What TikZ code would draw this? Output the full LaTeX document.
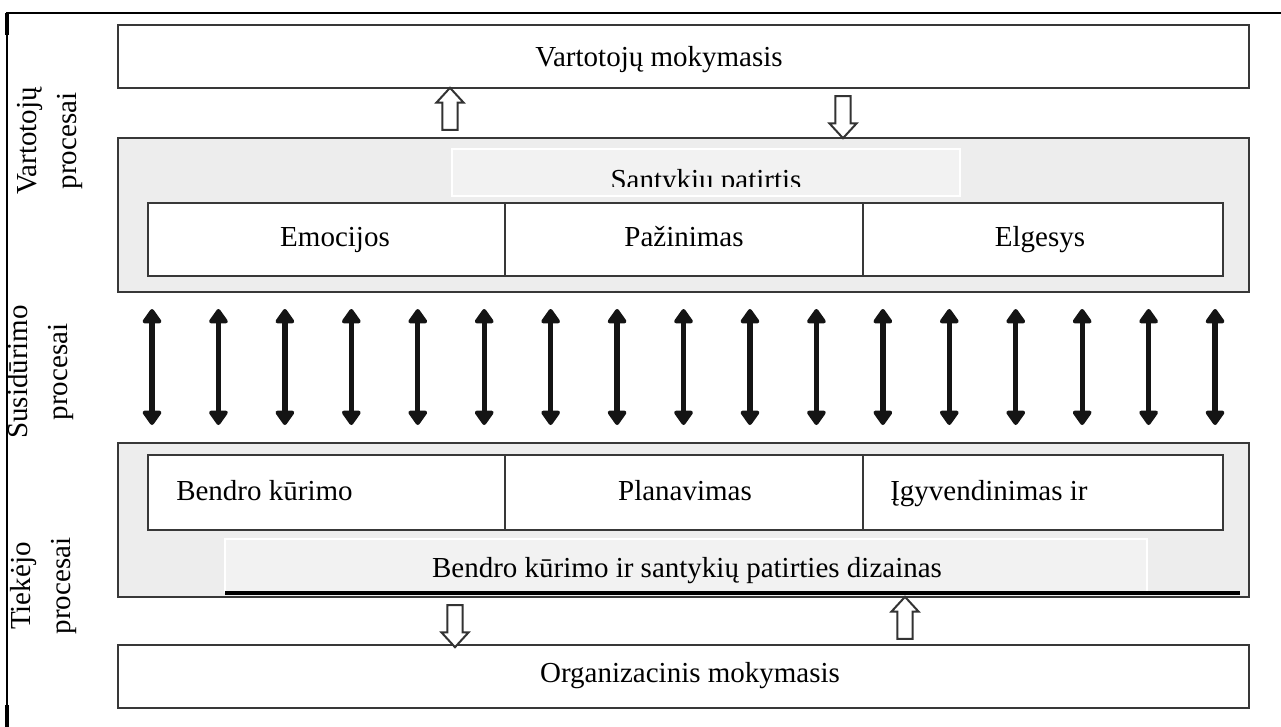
\documentclass[tikz,border=0pt]{standalone}
\usepackage{fontspec}
\setmainfont{Liberation Serif}
\usetikzlibrary{arrows.meta,shapes.arrows}
\begin{document}
\begin{tikzpicture}[x=0.75pt,y=-0.75pt,
  edge/.style={draw=black!78, line width=2.2pt},
  graybox/.style={edge, fill=black!7},
  cellbox/.style={edge, fill=white},
  innerbox/.style={draw=white, line width=1.5pt, fill=black!5},
  txt/.style={font=\fontsize{21.75}{26}\selectfont, inner sep=0pt},
  side/.style={font=\fontsize{21.75}{30}\selectfont, inner sep=0pt, rotate=90, align=center},
  dbl/.style={line width=4pt, black!92, {Triangle[width=16pt,length=12pt,round]}-{Triangle[width=16pt,length=12pt,round]}},
  hollow/.style={single arrow, draw=black!80, fill=white, line width=1.5pt, inner xsep=0pt, inner ysep=5pt,
     minimum height=31.5pt, minimum width=0pt, single arrow head extend=4.5pt, single arrow tip angle=85}
]
\useasboundingbox (0,0) rectangle (1281,727);
% outer frame
\draw[line width=1.3pt] (7,727) -- (7,13) -- (1281,13);
\draw[line width=2.6pt] (7,13) -- (7,35);
\draw[line width=2.6pt] (7,705) -- (7,727);

% top box
\draw[cellbox] (118,25) rectangle (1249,88);
\node[txt, anchor=base] (vm) at (659,67) {Vartotojų mokymasis};

% upper gray box
\draw[graybox] (118,138) rectangle (1249,292);
\draw[innerbox] (452,149) rectangle (960,196);
\begin{scope}
\clip (452,149) rectangle (960,187);
\node[txt, anchor=base] (sp) at (706,190) {Santykiu patirtis};
\end{scope}
\draw[cellbox] (148,203) rectangle (1223,276);
\draw[edge] (505,203) -- (505,276);
\draw[edge] (863,203) -- (863,276);
\node[txt, anchor=base] (em) at (335,247) {Emocijos};
\node[txt, anchor=base] (pz) at (684,247) {Pažinimas};
\node[txt, anchor=base] (el) at (1040,247) {Elgesys};

% lower gray box
\draw[graybox] (118,443) rectangle (1249,597);
\draw[cellbox] (148,455) rectangle (1223,530);
\draw[edge] (505,455) -- (505,530);
\draw[edge] (863,455) -- (863,530);
\node[txt, anchor=base west] (bk) at (176,500) {Bendro kūrimo};
\node[txt, anchor=base] (pl) at (685,500) {Planavimas};
\node[txt, anchor=base west] (ig) at (890,500) {Įgyvendinimas ir};
\draw[innerbox] (225,593) -- (225,539) -- (1147,539) -- (1147,593);
\fill[black!5] (226,540) rectangle (1146,592);
\draw[line width=2.4pt] (225,593) -- (1240,593);
\node[txt, anchor=base] (bd) at (687,577) {Bendro kūrimo ir santykių patirties dizainas};

% bottom box
\draw[cellbox] (118,645) rectangle (1249,708);
\node[txt, anchor=base] (om) at (690,682) {Organizacinis mokymasis};

% hollow block arrows
\node[hollow, rotate=90] (a1) at (450,113) {};
\node[hollow, rotate=-90] (a2) at (843,113) {};
\node[hollow, rotate=-90] (a3) at (455,622) {};
\node[hollow, rotate=90] (a4) at (905,622) {};

% double arrows
\foreach \i in {0,...,16} {
  \coordinate (t\i) at ({152+66.44*\i},309);
  \coordinate (b\i) at ({152+66.44*\i},425);
  \draw[dbl] (t\i) -- (b\i);
}

% side labels
\node[side] (l1) at (50,141) {Vartotojų\\procesai};
\node[side] (l2) at (41,372) {Susidūrimo\\procesai};
\node[side] (l3) at (44,586) {Tiekėjo\\procesai};
\end{tikzpicture}
\end{document}
